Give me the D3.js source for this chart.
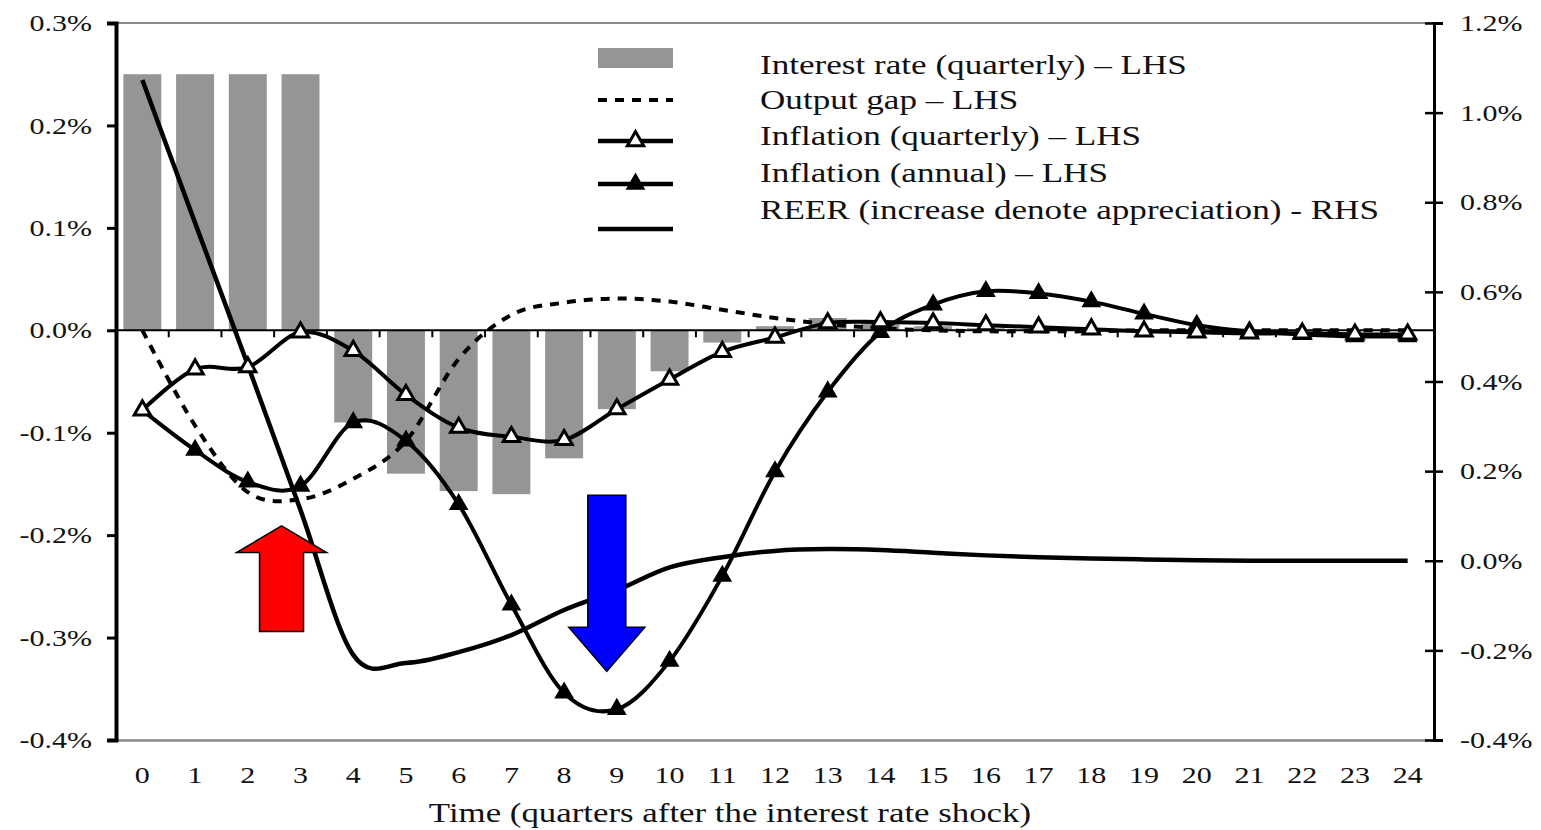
<!DOCTYPE html>
<html>
<head>
<meta charset="utf-8">
<script src="https://cdn.jsdelivr.net/npm/d3@7"></script>
<style>
  html, body { margin: 0; padding: 0; background: #fff; }
  svg { display: block; }
  text { font-family: "Liberation Serif", "Times New Roman", serif; fill: #111; }
</style>
</head>
<body>
<svg id="chart" width="1541" height="830"></svg>
<script>
// Quarters after the interest rate shock
const quarters = [0,1,2,3,4,5,6,7,8,9,10,11,12,13,14,15,16,17,18,19,20,21,22,23,24];

// Left-hand-side series (percent)
const interestRate = [0.25,0.25,0.25,0.25,-0.09,-0.14,-0.157,-0.16,-0.125,-0.077,-0.04,-0.012,0.004,0.012,0.007,0.004,0.002,0.001,0,0,0,0,0,0,0];
const outputGap    = [0,-0.093,-0.158,-0.165,-0.145,-0.108,-0.028,0.015,0.027,0.031,0.028,0.02,0.012,0.006,0.002,0,-0.001,-0.001,-0.001,0,0,0,0,0,0];
const inflationQ   = [-0.078,-0.038,-0.036,-0.002,-0.02,-0.063,-0.095,-0.104,-0.107,-0.077,-0.048,-0.021,-0.007,0.007,0.008,0.007,0.005,0.003,0.001,-0.001,-0.002,-0.003,-0.003,-0.004,-0.004];
const inflationA   = [-0.078,-0.117,-0.148,-0.152,-0.09,-0.108,-0.17,-0.268,-0.354,-0.37,-0.323,-0.24,-0.138,-0.06,-0.002,0.025,0.038,0.036,0.028,0.016,0.005,-0.001,-0.004,-0.006,-0.006];
// Right-hand-side series (percent)
const reer         = [1.073,0.754,0.437,0.113,-0.21,-0.228,-0.204,-0.166,-0.11,-0.066,-0.015,0.008,0.022,0.026,0.024,0.018,0.012,0.008,0.005,0.003,0.001,0,0,0,0];

// Axis ticks
const leftTicks  = [-0.4,-0.3,-0.2,-0.1,0.0,0.1,0.2,0.3];
const rightTicks = [-0.4,-0.2,0.0,0.2,0.4,0.6,0.8,1.0,1.2];

const legendLabels = [
  "Interest rate (quarterly) \u2013 LHS",
  "Output gap \u2013 LHS",
  "Inflation (quarterly) \u2013 LHS",
  "Inflation (annual) \u2013 LHS",
  "REER (increase denote appreciation) - RHS"
];
const xTitle = "Time (quarters after the interest rate shock)";

// Arrow annotations in data units (quarter, tip value, tail value, head base value)
const arrows = [
  { q: 2.64, tip: -0.191, tail: -0.294, base: -0.217, head: 45, shaft: 22, color: "#ff0000" },
  { q: 8.81, tip: -0.333, tail: -0.161, base: -0.290, head: 38, shaft: 19, color: "#0000ff" }
];

const svg = d3.select("#chart");
const plotL = 116, plotR = 1434, plotT = 23, plotB = 740;

const x = d3.scaleBand().domain(quarters).range([plotL, plotR]).paddingInner(0.28).paddingOuter(0.14);
const bw = x.bandwidth();
const cx = q => x(q) + bw / 2;
const qx = d3.scaleLinear().domain([0, 1]).range([cx(0), cx(1)]);
const yL = d3.scaleLinear().domain([-0.4, 0.3]).range([plotB, plotT]);
const yR = d3.scaleLinear().domain([-0.4, 1.2]).range([plotB, plotT]);

const GRAY = "#959595";
const LW = 4;
const curve = d3.curveCardinal.tension(0);

// Frame: top border line
svg.append("line").attr("x1", plotL).attr("x2", plotR).attr("y1", plotT).attr("y2", plotT)
  .attr("stroke", "#8a8a8a").attr("stroke-width", 2);

// Bars: interest rate
svg.append("g").selectAll("rect").data(quarters).join("rect")
  .attr("x", d => x(d))
  .attr("width", bw)
  .attr("y", d => yL(Math.max(0, interestRate[d])))
  .attr("height", d => Math.abs(yL(interestRate[d]) - yL(0)))
  .attr("fill", GRAY);

// Zero line with category ticks
const zero = svg.append("g");
zero.append("line").attr("x1", plotL).attr("x2", plotR).attr("y1", yL(0)).attr("y2", yL(0))
  .attr("stroke", "#000").attr("stroke-width", 2);
zero.selectAll("line.tk").data(quarters.slice(1)).join("line").attr("class", "tk")
  .attr("x1", d => x(d) - x.step() * x.paddingInner() / 2)
  .attr("x2", d => x(d) - x.step() * x.paddingInner() / 2)
  .attr("y1", yL(0)).attr("y2", yL(0) + 7)
  .attr("stroke", "#000").attr("stroke-width", 2);

// Bottom axis (labels only, domain line grey)
const gx = svg.append("g").attr("transform", `translate(0,${plotB})`)
  .call(d3.axisBottom(x).tickSize(0).tickPadding(26));
gx.select(".domain").attr("stroke", "#8a8a8a").attr("stroke-width", 2.5);
gx.selectAll("text").attr("font-size", 24).attr("font-family", "Liberation Serif").attr("fill", "#111");

// Left axis
const gl = svg.append("g").attr("transform", `translate(${plotL},0)`)
  .call(d3.axisLeft(yL).tickValues(leftTicks).tickSize(9).tickPadding(15)
    .tickFormat(d => d.toFixed(1) + "%"));
gl.select(".domain").attr("stroke", "#000").attr("stroke-width", 4);
gl.selectAll(".tick line").attr("stroke", "#000").attr("stroke-width", 3);
gl.selectAll("text").attr("font-size", 24).attr("font-family", "Liberation Serif").attr("fill", "#111");

// Right axis with crossing ticks
const gr = svg.append("g").attr("transform", `translate(${plotR},0)`)
  .call(d3.axisRight(yR).tickValues(rightTicks).tickSize(9).tickPadding(17)
    .tickFormat(d => d.toFixed(1) + "%"));
gr.select(".domain").attr("stroke", "#000").attr("stroke-width", 3);
gr.selectAll(".tick line").attr("x1", -9).attr("stroke", "#000").attr("stroke-width", 2.5);
gr.selectAll("text").attr("font-size", 24).attr("font-family", "Liberation Serif").attr("fill", "#111");

// Axis title
svg.append("text").attr("class", "title")
  .attr("x", (plotL + plotR) / 2 - 45).attr("y", 813).attr("dy", "0.35em")
  .attr("text-anchor", "middle").attr("font-size", 27).attr("data-sx", 1.29).text(xTitle);

// Lines
const lineL = vals => d3.line().x((d, i) => cx(quarters[i])).y(d => yL(d)).curve(curve)(vals);
const lineR = vals => d3.line().x((d, i) => cx(quarters[i])).y(d => yR(d)).curve(curve)(vals);

svg.append("path").attr("d", lineL(outputGap)).attr("fill", "none")
  .attr("stroke", "#000").attr("stroke-width", LW).attr("stroke-dasharray", "9,8");

svg.append("path").attr("d", lineR(reer)).attr("fill", "none")
  .attr("stroke", "#000").attr("stroke-width", LW + 0.5);

svg.append("path").attr("d", lineL(inflationA)).attr("fill", "none")
  .attr("stroke", "#000").attr("stroke-width", LW);
svg.append("path").attr("d", lineL(inflationQ)).attr("fill", "none")
  .attr("stroke", "#000").attr("stroke-width", LW);

const tri = d3.symbol().type(d3.symbolTriangle).size(115);
svg.append("g").selectAll("path").data(quarters).join("path")
  .attr("d", tri).attr("transform", d => `translate(${cx(d)},${yL(inflationA[d])})`)
  .attr("fill", "#000").attr("stroke", "#000").attr("stroke-width", 2);
svg.append("g").selectAll("path").data(quarters).join("path")
  .attr("d", tri).attr("transform", d => `translate(${cx(d)},${yL(inflationQ[d])})`)
  .attr("fill", "#fff").attr("stroke", "#000").attr("stroke-width", 3);

// Arrow annotations
svg.append("g").selectAll("path").data(arrows).join("path")
  .attr("d", a => {
    const c = qx(a.q), t = yL(a.tip), b = yL(a.base), e = yL(a.tail);
    return `M${c},${t}L${c + a.head},${b}L${c + a.shaft},${b}L${c + a.shaft},${e}` +
           `L${c - a.shaft},${e}L${c - a.shaft},${b}L${c - a.head},${b}Z`;
  })
  .attr("fill", a => a.color).attr("stroke", "#000").attr("stroke-width", 1.5);

// Legend
const lg = svg.append("g");
const lx0 = 598, lx1 = 673, tx = 760;
const symY = [58, 100, 141, 184, 229];
const txtY = [65, 100, 136, 173, 210];
lg.append("rect").attr("x", lx0).attr("y", symY[0] - 10).attr("width", lx1 - lx0).attr("height", 20).attr("fill", GRAY);
lg.append("line").attr("x1", lx0).attr("x2", lx1).attr("y1", symY[1]).attr("y2", symY[1])
  .attr("stroke", "#000").attr("stroke-width", LW).attr("stroke-dasharray", "9,8");
[2, 3, 4].forEach(i => {
  lg.append("line").attr("x1", lx0).attr("x2", lx1).attr("y1", symY[i]).attr("y2", symY[i])
    .attr("stroke", "#000").attr("stroke-width", LW + 0.5);
});
lg.append("path").attr("d", tri).attr("transform", `translate(${(lx0 + lx1) / 2},${symY[2]})`)
  .attr("fill", "#fff").attr("stroke", "#000").attr("stroke-width", 3);
lg.append("path").attr("d", tri).attr("transform", `translate(${(lx0 + lx1) / 2},${symY[3]})`)
  .attr("fill", "#000").attr("stroke", "#000").attr("stroke-width", 2);
lg.selectAll("text").data(legendLabels).join("text")
  .attr("x", tx).attr("y", (d, i) => txtY[i]).attr("dy", "0.35em")
  .attr("font-size", 27).attr("data-sx", 1.3).text(d => d);

// Widen the serif glyphs horizontally
svg.selectAll("text").each(function () {
  const sx = +(this.getAttribute("data-sx") || 1.25);
  const w = this.getComputedTextLength();
  d3.select(this).attr("textLength", w * sx).attr("lengthAdjust", "spacingAndGlyphs");
});
</script>
</body>
</html>
